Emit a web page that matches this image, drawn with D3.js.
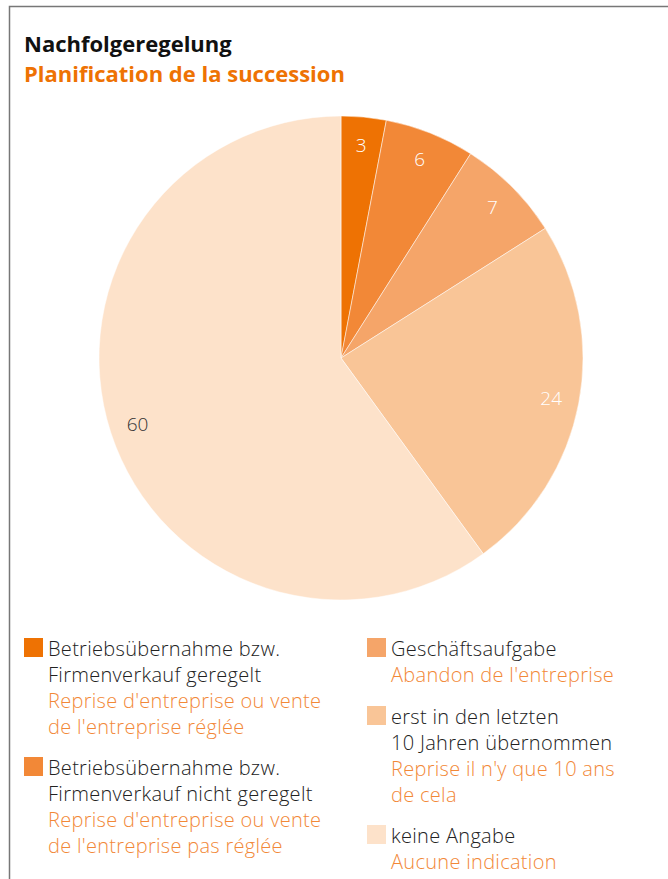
<!DOCTYPE html>
<html lang="de">
<head>
<meta charset="UTF-8">
<title>Nachfolgeregelung</title>
<script src="https://d3js.org/d3.v7.min.js"></script>
<style>
  html, body { margin: 0; padding: 0; background: #fff; }
  svg { display: block; }
  text { font-family: "Open Sans", Roboto, sans-serif; }
</style>
</head>
<body>
<svg width="668" height="879"></svg>
<script>
// data
const values = [3, 6, 7, 24, 60];
const colors = ["#ee7203", "#f28837", "#f5a569", "#f9c597", "#fde2ca"];
const labelColors = ["#fff", "#fff", "#fff", "#fff", "#333"];
const germanLabels = [
  ["Betriebsübernahme bzw.", "Firmenverkauf geregelt"],
  ["Betriebsübernahme bzw.", "Firmenverkauf nicht geregelt"],
  ["Geschäftsaufgabe"],
  ["erst in den letzten", "10 Jahren übernommen"],
  ["keine Angabe"]
];
const frenchLabels = [
  ["Reprise d'entreprise ou vente", "de l'entreprise réglée"],
  ["Reprise d'entreprise ou vente", "de l'entreprise pas réglée"],
  ["Abandon de l'entreprise"],
  ["Reprise il n'y que 10 ans", "de cela"],
  ["Aucune indication"]
];

const svg = d3.select("svg");

// frame
svg.append("path")
  .attr("d", "M9.5,879 V6.5 H668")
  .attr("fill", "none")
  .attr("stroke", "#777")
  .attr("stroke-width", 1.5);

// title
svg.append("text")
  .attr("x", 24).attr("y", 52)
  .attr("font-size", 22).attr("font-weight", 700)
  .attr("fill", "#111")
  .text("Nachfolgeregelung");
svg.append("text")
  .attr("x", 24).attr("y", 82)
  .attr("font-size", 22).attr("font-weight", 700)
  .attr("fill", "#ee7203")
  .text("Planification de la succession");

// pie
const cx = 341, cy = 358, radius = 242;
const pie = d3.pie().sort(null).value(d => d);
const arc = d3.arc().innerRadius(0).outerRadius(radius);
const labelArc = d3.arc().innerRadius(214).outerRadius(214);

const g = svg.append("g").attr("transform", `translate(${cx},${cy})`);
const arcs = pie(values);

g.selectAll("path")
  .data(arcs)
  .enter().append("path")
  .attr("d", arc)
  .attr("fill", (d, i) => colors[i])
  .attr("stroke", "#fff")
  .attr("stroke-width", 0.5);

g.selectAll("text")
  .data(arcs)
  .enter().append("text")
  .attr("transform", d => `translate(${labelArc.centroid(d)})`)
  .attr("text-anchor", "middle")
  .attr("dominant-baseline", "central")
  .attr("font-size", 19).attr("font-weight", 300)
  .attr("fill", (d, i) => labelColors[i])
  .text(d => d.data);

// legend
const legendPos = [
  { x: 24, y: 638 },
  { x: 24, y: 757 },
  { x: 367, y: 638 },
  { x: 367, y: 706 },
  { x: 367, y: 825 }
];
const lineH = 26.3;

legendPos.forEach((p, i) => {
  const item = svg.append("g").attr("transform", `translate(${p.x},${p.y})`);
  item.append("rect")
    .attr("width", 19).attr("height", 19)
    .attr("fill", colors[i]);
  const lines = germanLabels[i].map(t => ({ t, c: "#222" }))
    .concat(frenchLabels[i].map(t => ({ t, c: "#f28837" })));
  item.selectAll("text")
    .data(lines)
    .enter().append("text")
    .attr("x", 24)
    .attr("y", (d, j) => 17.5 + j * lineH)
    .attr("font-size", 20).attr("font-weight", 300)
    .attr("letter-spacing", 0.3)
    .attr("fill", d => d.c)
    .text(d => d.t);
});
</script>
</body>
</html>
